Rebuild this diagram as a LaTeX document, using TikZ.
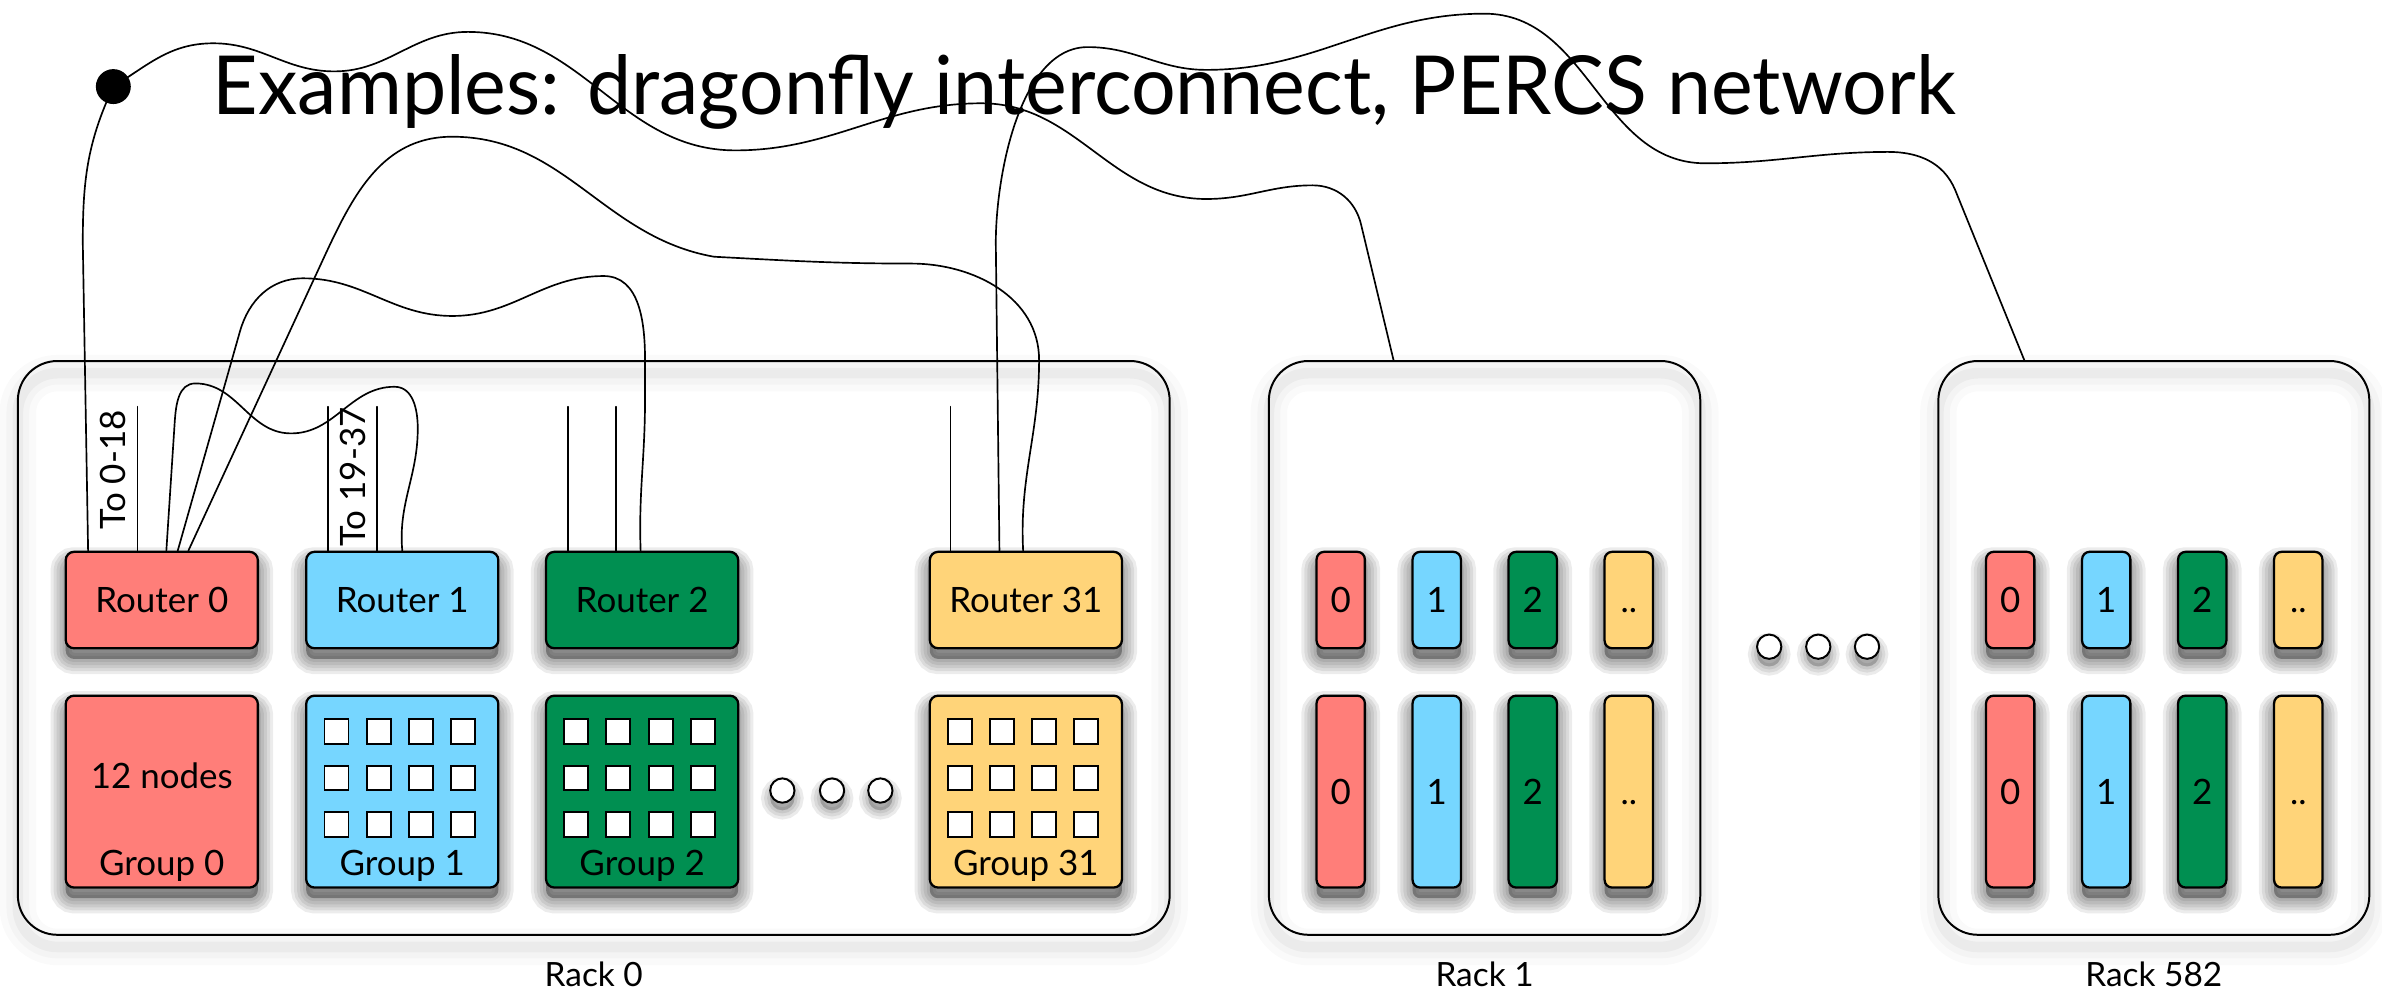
\documentclass[tikz,border=0pt]{standalone}
\usepackage{fontspec}
\setmainfont{Lato}
\usepackage{graphicx}
\usetikzlibrary{calc}

\definecolor{salmon}{HTML}{FF7E79}
\definecolor{sky}{HTML}{76D6FF}
\definecolor{moss}{HTML}{008F51}
\definecolor{cantaloupe}{HTML}{FFD479}

\tikzset{
  shadowlayer/.style={preaction={draw=black, fill=black, line width=#1, opacity=0.075,
    transform canvas={yshift=-7pt}}},
  softshadow/.style={shadowlayer=20pt, shadowlayer=16pt, shadowlayer=12pt,
    shadowlayer=8pt, shadowlayer=4pt},
  dotlayer/.style={preaction={draw=black, fill=black, line width=#1, opacity=0.08,
    transform canvas={yshift=-5pt}}},
  smallshadow/.style={dotlayer=12pt, dotlayer=8pt, dotlayer=4pt},
  rackhaze/.style={
    preaction={draw=black, line width=24pt, draw opacity=0.02, transform canvas={yshift=-8pt}},
    preaction={draw=black, line width=15pt, draw opacity=0.025, transform canvas={yshift=-8pt}},
    preaction={draw=black, line width=7pt, draw opacity=0.035, transform canvas={yshift=-8pt}},
  },
  lbl/.style={font=\fontsize{23}{28}\selectfont, text height=16.5pt, text depth=0pt, inner sep=0pt},
  rackbox/.style={draw, line width=1.3pt, rounded corners=26pt, inner sep=0pt,
    anchor=north west, minimum height=377.7pt, rackhaze},
  router/.style={draw, line width=1.5pt, rounded corners=5.5pt, anchor=north west,
    minimum width=126.5pt, minimum height=63.5pt, softshadow, lbl},
  groupbox/.style={router, minimum height=126.3pt},
  minirouter/.style={router, minimum width=31.8pt, rounded corners=5pt},
  minigroup/.style={minirouter, minimum height=126.3pt},
  cell/.style={draw, fill=white, line width=1.3pt},
  dotc/.style={circle, draw, fill=white, line width=1.3pt, minimum size=16pt, inner sep=0pt, smallshadow},
  wire/.style={line width=1.1pt, line cap=round},
  racklabel/.style={font=\fontsize{22}{26}\selectfont, inner sep=0pt, anchor=base},
}

\begin{document}
\begin{tikzpicture}[x=1pt,y=1pt]
\useasboundingbox (0,0) rectangle (1568,-652);

% racks
\node[rackbox, minimum width=758.2pt] (rack0) at (11.1,-237) {};
\node[rackbox, minimum width=284pt] (rack1) at (834.6,-237) {};
\node[rackbox, minimum width=283.7pt] (rack582) at (1275.3,-237) {};
\node[racklabel] (rack0lbl) at ($(rack0.south)+(0,-33.5)$) {Rack 0};
\node[racklabel] (rack1lbl) at ($(rack1.south)+(0,-33.5)$) {Rack 1};
\node[racklabel] (rack582lbl) at ($(rack582.south)+(0,-33.5)$) {Rack 582};

% title line
\node[anchor=base west, inner sep=0pt] (title) at (140,-75.7)
  {\resizebox{1147pt}{39.5pt}{\fontsize{50}{60}\selectfont Examples: dragonfly interconnect, PERCS network}};

% routers and groups of rack 0
\node[router, fill=salmon] (r0) at (42.5,-362.5) {Router 0};
\node[router, fill=sky] (r1) at (200.8,-362.5) {Router 1};
\node[router, fill=moss] (r2) at (358.7,-362.5) {Router 2};
\node[router, fill=cantaloupe] (r31) at (611.3,-362.5) {Router 31};

\node[groupbox, fill=salmon] (g0) at (42.5,-457.2) {};
\node[groupbox, fill=sky] (g1) at (200.8,-457.2) {};
\node[groupbox, fill=moss] (g2) at (358.7,-457.2) {};
\node[groupbox, fill=cantaloupe] (g31) at (611.3,-457.2) {};

\node[lbl, anchor=base] (g0count) at ($(g0.north)+(0,-61.8)$) {12 nodes};
\foreach \g/\t in {g0/Group 0, g1/Group 1, g2/Group 2, g31/Group 31}
  \node[lbl, text height=, anchor=base] (\g lbl) at ($(\g.south)+(0,8.8)$) {\t};

\foreach \g in {g1,g2,g31}
  \foreach \c in {0,...,3}
    \foreach \r in {0,1,2}
      \draw[cell] ($(\g.north west)+(12.8+27.7*\c,-16.3-30.6*\r)$) rectangle ++(15.8,-16);

% ellipses
\node[dotc] (gd1) at (515,-520.4) {};
\node[dotc] (gd2) at (547.7,-520.4) {};
\node[dotc] (gd3) at (579.5,-520.4) {};
\node[dotc] (kd1) at (1164.6,-425.7) {};
\node[dotc] (kd2) at (1196.9,-425.7) {};
\node[dotc] (kd3) at (1229,-425.7) {};

% routers and groups of racks 1 and 582
\foreach \rk/\rx in {1/834.6, 582/1275.3}
  \foreach \i/\c/\t in {0/salmon/0, 1/sky/1, 2/moss/2, 3/cantaloupe/..} {
    \node[minirouter, fill=\c] (k\rk r\i) at (\rx+31.3+63.2*\i,-362.5) {\t};
    \node[minigroup, fill=\c] (k\rk g\i) at (\rx+31.3+63.2*\i,-457.2) {\t};
  }

% router ports
\coordinate (r0p1) at ($(r0.north west)+(15.5,0)$);
\coordinate (r0p2) at ($(r0.north west)+(48,0)$);
\coordinate (r0p3) at ($(r0.north west)+(67,0)$);
\coordinate (r0p4) at ($(r0.north west)+(74.5,0)$);
\coordinate (r0p5) at ($(r0.north west)+(81.5,0)$);
\coordinate (r1p1) at ($(r1.north west)+(15.3,0)$);
\coordinate (r1p2) at ($(r1.north west)+(47.5,0)$);
\coordinate (r1p3) at ($(r1.north west)+(64,0)$);
\coordinate (r2p1) at ($(r2.north west)+(15,0)$);
\coordinate (r2p2) at ($(r2.north west)+(47,0)$);
\coordinate (r2p3) at ($(r2.north west)+(63,0)$);
\coordinate (r31p1) at ($(r31.north west)+(14.3,0)$);
\coordinate (r31p2) at ($(r31.north west)+(46.6,0)$);
\coordinate (r31p3) at ($(r31.north west)+(62.2,0)$);
\coordinate (rk1top) at ($(rack1.north west)+(82.7,0)$);
\coordinate (rk582top) at ($(rack582.north west)+(57.2,0)$);

% unconnected global links
\foreach \p in {r0p2, r1p1, r1p2, r2p1, r2p2, r31p1} {
  \coordinate (\p end) at ($(\p)+(0,94.8)$);
  \draw[wire] (\p) -- (\p end);
}
\node[lbl, rotate=90, anchor=east] (to018) at (74.5,-270) {To 0-18};
\node[lbl, rotate=90, anchor=east] (to1937) at (232.5,-268) {To 19-37};

% local links inside the rack
\draw[wire] (r0p3) -- (115,-278) to[out=86,in=180] (128.6,-252.4)
  to[out=0,in=180] (191.6,-285.3) to[out=0,in=180] (259.7,-254.6)
  to[out=0,in=90] (275,-282) to[out=-90,in=95] (r1p3);
\draw[wire] (r0p4) -- (158,-218) to[out=74,in=180] (199.5,-183.2)
  to[out=0,in=180] (297.8,-208) to[out=0,in=180] (397.3,-181.7)
  to[out=0,in=90] (424.6,-237) -- (424.6,-263) to[out=-90,in=92] (r2p3);
\draw[wire] (r0p5) -- (207,-183) to[out=65,in=180] (297.7,-90)
  to[out=0,in=170] (470,-169) to[out=-3,in=180] (600,-173.5)
  to[out=0,in=90] (684,-237) to[out=-90,in=93] (r31p3);

% links to other racks
\node[circle, fill=black, minimum size=23pt, inner sep=0pt] (bullet) at (74.6,-57) {};
\draw[wire] (r0p1) -- (54.5,-160) to[out=90,in=245] (bullet.center)
  to[out=32,in=180] (140.4,-28.5) to[out=0,in=180] (220,-47)
  to[out=0,in=180] (308,-21) to[out=0,in=180] (484,-99)
  to[out=0,in=180] (646,-68) to[out=0,in=180] (794,-131)
  to[out=0,in=180] (864,-122) to[out=0,in=103] (896,-148) -- (rk1top);
\draw[wire] (r31p2) -- (655.5,-160) to[out=90,in=180,looseness=0.8] (716,-31)
  to[out=0,in=180] (794,-46) to[out=0,in=180] (977,-9)
  to[out=0,in=180] (1122.5,-107.5) to[out=0,in=180] (1243,-100)
  to[out=0,in=113] (1287,-125) -- (rk582top);
\end{tikzpicture}
\end{document}
